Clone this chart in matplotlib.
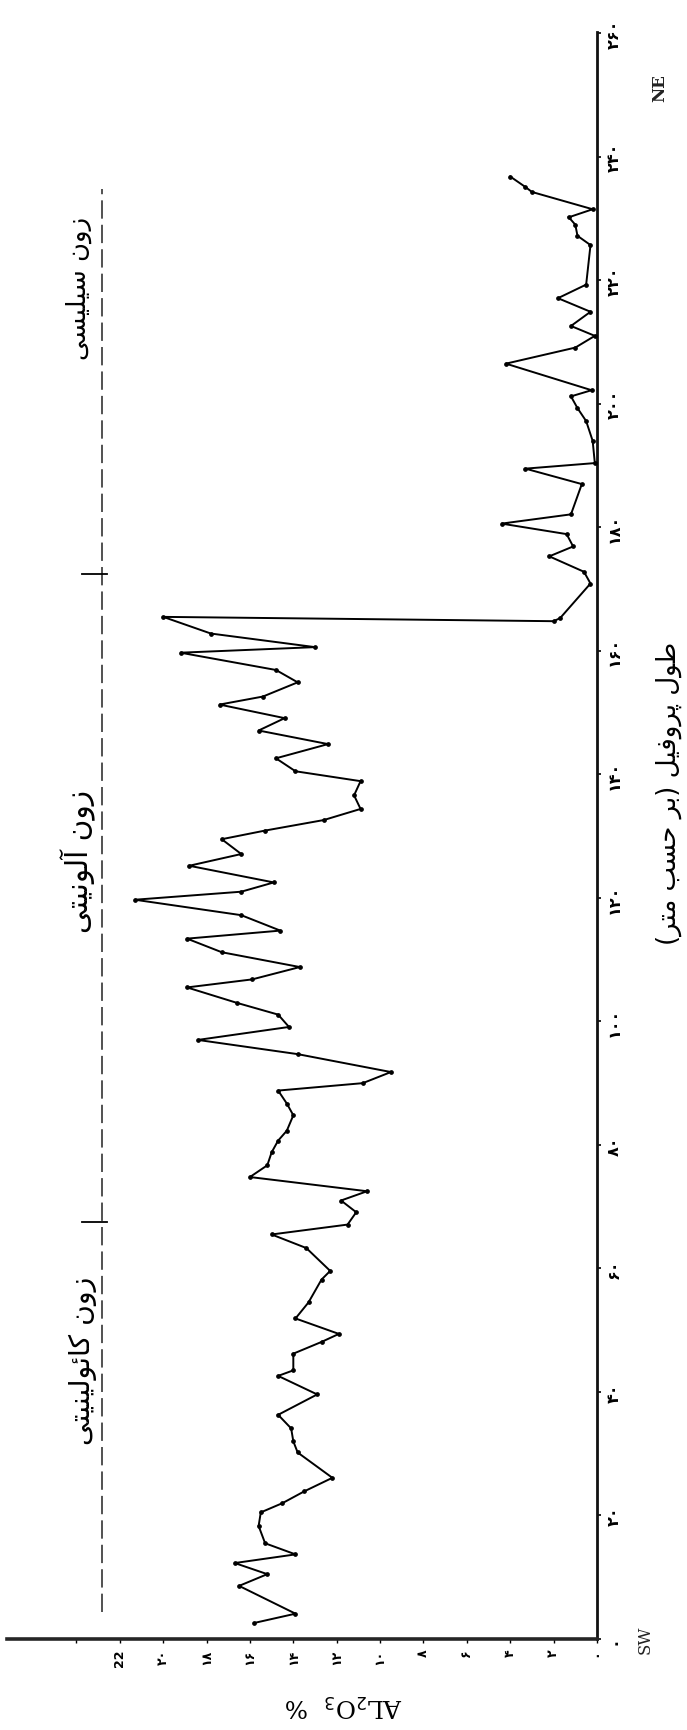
import matplotlib
matplotlib.use("Agg")
import matplotlib.pyplot as plt

# ---------------- data (read from the scanned profile) ----------------
distance_m = [2.6, 4.1, 8.6, 10.5, 12.3, 13.7, 15.5, 18.3, 20.5, 22.0, 23.9, 26.1,
              30.2, 32.0, 34.1, 36.3, 39.6, 42.6, 43.5, 46.2, 48.1, 49.4, 51.9, 54.5,
              58.2, 59.6, 63.3, 65.5, 67.1, 69.1, 71.0, 72.5, 74.8, 76.7, 78.8, 80.7,
              82.3, 84.8, 86.7, 88.8, 90.0, 91.8, 94.7, 97.0, 99.1, 101.1, 103.0, 105.5,
              106.8, 108.8, 111.2, 113.4, 114.7, 117.2, 119.7, 121.0, 122.5, 125.2, 127.1,
              129.5, 130.9, 132.6, 134.4, 136.6, 138.9, 140.5, 142.6, 144.9, 147.1, 149.1,
              151.3, 152.6, 154.9, 156.9, 159.7, 160.6, 162.8, 165.5, 164.8, 165.3, 170.9,
              172.8, 175.3, 176.9, 178.9, 180.6, 182.1, 187.0, 189.5, 190.4, 194.0, 197.2,
              199.3, 201.2, 202.2, 206.5, 209.1, 211.0, 212.6, 214.9, 217.1, 219.3, 225.7,
              227.2, 229.0, 230.2, 231.5, 234.3, 235.1, 236.8]
al2o3_pct = [15.8, 13.9, 16.5, 15.2, 16.7, 13.9, 15.3, 15.6, 15.5, 14.5, 13.5, 12.2,
             13.8, 14.0, 14.1, 14.7, 12.9, 14.7, 14.0, 14.0, 12.7, 11.9, 13.9, 13.3,
             12.7, 12.3, 13.4, 15.0, 11.5, 11.1, 11.8, 10.6, 16.0, 15.2, 15.0, 14.7,
             14.3, 14.0, 14.3, 14.7, 10.8, 9.5, 13.8, 18.4, 14.2, 14.7, 16.6, 18.9,
             15.9, 13.7, 17.3, 18.9, 14.6, 16.4, 21.3, 16.4, 14.9, 18.8, 16.4,
             17.3, 15.3, 12.6, 10.9, 11.2, 10.9, 13.9, 14.8, 12.4, 15.6, 14.4,
             17.4, 15.4, 13.8, 14.8, 19.2, 13.0, 17.8, 20.0, 2.0, 1.7, 0.3,
             0.6, 2.2, 1.1, 1.4, 4.4, 1.2, 0.7, 3.3, 0.1, 0.2, 0.5,
             0.9, 1.2, 0.25, 4.2, 1.0, 0.1, 1.2, 0.3, 1.8, 0.5, 0.3,
             0.9, 1.0, 1.3, 0.2, 3.0, 3.3, 4.0]

value_ticks = [0, 2, 4, 6, 8, 10, 12, 14, 16, 18, 20, 22]
value_tick_labels = ["۰", "۲", "۴", "۶", "۸", "۱۰", "۱۲", "۱۴", "۱۶", "۱۸", "۲۰", "22"]
distance_ticks = [0, 20, 40, 60, 80, 100, 120, 140, 160, 180, 200, 220, 240, 260]
distance_tick_labels = ["۰", "۲۰", "۴۰", "۶۰", "۸۰", "۱۰۰", "۱۲۰", "۱۴۰", "۱۶۰",
                        "۱۸۰", "۲۰۰", "۲۲۰", "۲۴۰", "۲۶۰"]

zone_names = ["زون کائولینیتی", "زون آلونیتی", "زون سیلیسی"]
zone_boundaries_m = [67.5, 172.5]
zone_line_pct = 22.8
zone_line_range_m = (4.4, 234.8)

x_axis_title = "طول پروفیل (بر حسب متر)"
y_axis_title = "AL$_2$O$_3$  %"

# ---------------- minimal Persian shaping (presentation forms) ----------------
FORMS = {
    "ا": ("\uFE8D", "\uFE8E", None, None),
    "آ": ("\uFE81", "\uFE82", None, None),
    "ب": ("\uFE8F", "\uFE90", "\uFE91", "\uFE92"),
    "پ": ("\uFB56", "\uFB57", "\uFB58", "\uFB59"),
    "ت": ("\uFE95", "\uFE96", "\uFE97", "\uFE98"),
    "ح": ("\uFEA1", "\uFEA2", "\uFEA3", "\uFEA4"),
    "ر": ("\uFEAD", "\uFEAE", None, None),
    "ز": ("\uFEAF", "\uFEB0", None, None),
    "س": ("\uFEB1", "\uFEB2", "\uFEB3", "\uFEB4"),
    "ط": ("\uFEC1", "\uFEC2", "\uFEC3", "\uFEC4"),
    "ف": ("\uFED1", "\uFED2", "\uFED3", "\uFED4"),
    "ک": ("\uFB8E", "\uFB8F", "\uFB90", "\uFB91"),
    "ل": ("\uFEDD", "\uFEDE", "\uFEDF", "\uFEE0"),
    "م": ("\uFEE1", "\uFEE2", "\uFEE3", "\uFEE4"),
    "ن": ("\uFEE5", "\uFEE6", "\uFEE7", "\uFEE8"),
    "و": ("\uFEED", "\uFEEE", None, None),
    "ی": ("\uFBFC", "\uFBFD", "\uFBFE", "\uFBFF"),
    "ئ": ("\uFE89", "\uFE8A", "\uFE8B", "\uFE8C"),
}


def shape(s):
    out = []
    for i, ch in enumerate(s):
        if ch not in FORMS:
            out.append(ch)
            continue
        prev = s[i - 1] if i > 0 else None
        nxt = s[i + 1] if i < len(s) - 1 else None
        jp = prev in FORMS and FORMS[prev][2] is not None
        jn = FORMS[ch][2] is not None and nxt in FORMS
        iso, fin, ini, med = FORMS[ch]
        out.append(med if (jp and jn) else fin if jp else ini if jn else iso)
    vis = "".join(reversed(out))
    return vis.translate(str.maketrans("()", ")("))


# ---------------- figure ----------------
W, H = 687, 1731
fig = plt.figure(figsize=(W / 100, H / 100), dpi=100)
fig.patch.set_facecolor("white")

x_left_px, x_zero_px = 7, 597
y_zero_px, y_top_px = 1640, 33
ax = fig.add_axes([x_left_px / W, 1 - y_zero_px / H,
                   (x_zero_px - x_left_px) / W, (y_zero_px - y_top_px) / H])
ax.set_xlim(27.2, 0)
ax.set_ylim(0, 260.2)
ax.set_facecolor("none")

for side in ("left", "top"):
    ax.spines[side].set_visible(False)
ax.spines["right"].set_linewidth(2.0)
ax.spines["bottom"].set_linewidth(2.6)
ax.spines["right"].set_color("#111111")
ax.spines["bottom"].set_color("#262626")

ax.yaxis.tick_right()
ax.set_yticks(distance_ticks)
ax.set_yticklabels(distance_tick_labels, rotation=90, fontsize=11.5,
                   fontweight="bold", family=["DejaVu Sans"], va="center")
ax.tick_params(axis="y", direction="out", length=3, width=1.2, pad=4)

ax.set_xticks(value_ticks)
ax.set_xticks([24], minor=True)
ax.set_xticklabels(value_tick_labels, rotation=90, fontsize=9,
                   fontweight="bold", family=["DejaVu Sans"])
ax.tick_params(axis="x", which="both", direction="out", length=3, width=1.0, pad=4)

# profile line
ax.plot(al2o3_pct, distance_m, color="black", lw=1.4, marker="o", ms=2.4,
        solid_joinstyle="miter", clip_on=False, zorder=3)

# zone boundary dashed line and boundary marks
ax.plot([zone_line_pct, zone_line_pct], list(zone_line_range_m), color="#222222",
        lw=1.1, dashes=[12, 4])
for b in zone_boundaries_m:
    ax.plot([zone_line_pct - 0.2, zone_line_pct + 0.95], [b, b], color="black", lw=1.3)

# zone names
renderer = fig.canvas.get_renderer()


def fit_len(t, target_px, use_width=False):
    bb = t.get_window_extent(renderer=renderer)
    cur = bb.width if use_width else bb.height
    t.set_fontsize(t.get_fontsize() * target_px / cur)


zone_label_xy = [(23.7, 45.2), (23.9, 126.0), (23.9, 218.9)]
zone_len_px = [168, 143, 143]
for name, (zx, zy), L in zip(zone_names, zone_label_xy, zone_len_px):
    t = ax.text(zx, zy, shape(name), rotation=90, ha="center", va="center",
                fontsize=12, family=["DejaVu Sans"], color="black")
    fit_len(t, L)

# axis titles and orientation letters (figure pixel positions)
t = fig.text(669 / W, 1 - 793 / H, shape(x_axis_title), rotation=90, ha="center",
             va="center", fontsize=14, family=["DejaVu Sans"], color="black")
fit_len(t, 305)

t = fig.text(343 / W, 1 - 1705 / H, y_axis_title, rotation=180, ha="center",
             va="center", fontsize=15, family=["DejaVu Serif"], color="black")
fit_len(t, 118, use_width=True)

fig.text(645 / W, 1 - 1640 / H, "SW", rotation=90, ha="center", va="center",
         fontsize=12, family=["DejaVu Serif"], color="#222222")
fig.text(660 / W, 1 - 88 / H, "NE", rotation=90, ha="center", va="center",
         fontsize=12, fontweight="bold", family=["DejaVu Serif"], color="#222222")

fig.savefig("out.png", dpi=100, facecolor="white")
